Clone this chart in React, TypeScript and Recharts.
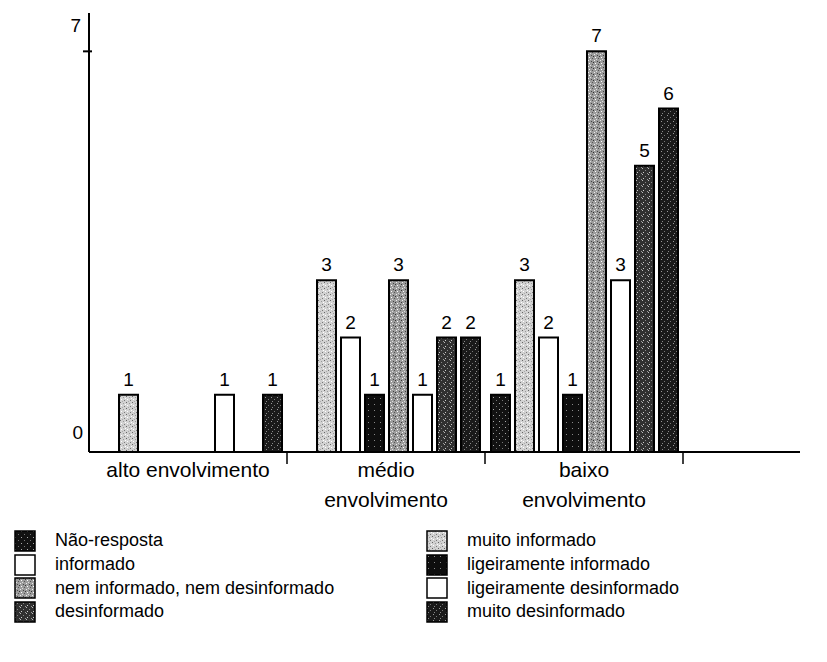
import React from 'react'
import { BarChart, Bar, XAxis, YAxis, LabelList } from 'recharts'

// grupos (eixo x)
const categories = ['alto envolvimento', 'médio\nenvolvimento', 'baixo\nenvolvimento']

// uma lista por série, na ordem dos grupos
const naoResposta = [0, 0, 1]
const muitoInformado = [1, 3, 3]
const informado = [0, 2, 2]
const ligeiramenteInformado = [0, 1, 1]
const nemNem = [0, 3, 7]
const ligeiramenteDesinformado = [1, 1, 3]
const desinformado = [0, 2, 5]
const muitoDesinformado = [1, 2, 6]

const yTicks = [0, 7]

const series = [
  { key: 'nr', name: 'Não-resposta', values: naoResposta, fill: 'url(#pat-nr)' },
  { key: 'mi', name: 'muito informado', values: muitoInformado, fill: 'url(#pat-mi)' },
  { key: 'inf', name: 'informado', values: informado, fill: '#ffffff' },
  { key: 'li', name: 'ligeiramente informado', values: ligeiramenteInformado, fill: 'url(#pat-li)' },
  { key: 'nem', name: 'nem informado, nem desinformado', values: nemNem, fill: 'url(#pat-nem)' },
  { key: 'ld', name: 'ligeiramente desinformado', values: ligeiramenteDesinformado, fill: '#ffffff' },
  { key: 'des', name: 'desinformado', values: desinformado, fill: 'url(#pat-des)' },
  { key: 'md', name: 'muito desinformado', values: muitoDesinformado, fill: 'url(#pat-md)' }
]

const data = categories.map((name, i) => {
  const row: Record<string, any> = { name }
  series.forEach(s => { row[s.key] = s.values[i] })
  return row
})

const FONT = '"Liberation Sans", Arial, Helvetica, sans-serif'

// texturas pontilhadas (tile pequeno e fixo)
function Speckle({ id, base, dots }: { id: string; base: string; dots: [number, number, string][] }) {
  return (
    <pattern id={id} width={6} height={6} patternUnits="userSpaceOnUse">
      <rect width={6} height={6} fill={base} />
      {dots.map(([dx, dy, c], i) => <rect key={i} x={dx} y={dy} width={1} height={1} fill={c} />)}
    </pattern>
  )
}

function Patterns() {
  return (
    <defs>
      <Speckle id="pat-nr" base="#121212" dots={[[1, 1, '#aaa'], [4, 4, '#777']]} />
      <Speckle id="pat-mi" base="#d2d2d2" dots={[[0, 0, '#666'], [3, 1, '#999'], [1, 3, '#fff'], [4, 4, '#777'], [2, 5, '#aaa'], [5, 2, '#fff']]} />
      <Speckle id="pat-li" base="#0e0e0e" dots={[[2, 2, '#888']]} />
      <Speckle id="pat-nem" base="#9c9c9c" dots={[[0, 0, '#eee'], [3, 1, '#444'], [1, 3, '#fff'], [4, 4, '#555'], [2, 5, '#ddd'], [5, 2, '#333']]} />
      <Speckle id="pat-des" base="#303030" dots={[[0, 0, '#bbb'], [3, 2, '#888'], [1, 4, '#ccc'], [5, 5, '#999']]} />
      <Speckle id="pat-md" base="#1a1a1a" dots={[[1, 1, '#999'], [4, 3, '#777'], [2, 5, '#888']]} />
    </defs>
  )
}

function CategoryTick(props: any) {
  const { x, y, payload } = props
  const half = payload && payload.offset ? payload.offset : 99
  const lines = String(payload.value).split('\n')
  return (
    <g>
      <line x1={x + half} x2={x + half} y1={y} y2={y + 12} stroke="#000" strokeWidth={1.5} />
      {lines.map((t, i) => (
        <text key={i} x={x} y={y + 25 + i * 30} textAnchor="middle" fontSize={21} fontFamily={FONT} fill="#000">
          {t}
        </text>
      ))}
    </g>
  )
}

function ValueTick(props: any) {
  const { x, y, payload } = props
  const lift = payload.value === 0 ? 20 : 26
  return (
    <g>
      {payload.value !== 0 && (
        <line x1={x + 2} x2={x + 11} y1={y} y2={y} stroke="#000" strokeWidth={2} />
      )}
      <text x={payload.value === 0 ? x + 2 : x} y={y - lift} textAnchor="end" dominantBaseline="central" fontSize={19} fontFamily={FONT} fill="#000">
        {payload.value}
      </text>
    </g>
  )
}

function LegendSwatch({ fill }: { fill: string }) {
  return (
    <svg width={22} height={22} style={{ display: 'block' }}>
      <rect x={1} y={1} width={20} height={20} fill={fill} stroke="#000" strokeWidth={1.5} />
    </svg>
  )
}

export default function App() {
  // legenda em duas colunas: pares à esquerda, ímpares à direita
  const cols = [series.filter((_, i) => i % 2 === 0), series.filter((_, i) => i % 2 === 1)]

  return (
    <div style={{ position: 'absolute', left: 0, top: 0, width: 827, height: 662, background: '#fff', fontFamily: FONT }}>
      <BarChart
        width={827}
        height={530}
        data={data}
        margin={{ top: 13, right: 27, left: 0, bottom: 0 }}
        barSize={19}
        barGap={5}
      >
        <Patterns />
        <XAxis
          dataKey="name"
          height={78}
          interval={0}
          padding={{ left: 0, right: 117 }}
          axisLine={{ stroke: '#000', strokeWidth: 2 }}
          tickLine={false}
          tickSize={0}
          tickMargin={0}
          tick={<CategoryTick />}
        />
        <YAxis
          width={89}
          domain={[0, 7.67]}
          ticks={yTicks}
          allowDataOverflow
          axisLine={{ stroke: '#000', strokeWidth: 2 }}
          tickLine={false}
          tickSize={6}
          tickMargin={2}
          tick={<ValueTick />}
        />
        {series.map(s => (
          <Bar key={s.key} dataKey={s.key} name={s.name} fill={s.fill} stroke="#000" strokeWidth={2} isAnimationActive={false}>
            <LabelList
              dataKey={s.key}
              position="top"
              offset={9}
              fill="#000"
              fontSize={19}
              fontFamily={FONT}
              formatter={(v: any) => (v === 0 ? '' : v)}
            />
          </Bar>
        ))}
      </BarChart>

      {cols.map((col, c) => (
        <div key={c} style={{ position: 'absolute', left: c === 0 ? 14 : 426, top: 529 }}>
          {col.map(s => (
            <div key={s.key} style={{ display: 'flex', alignItems: 'center', height: 23.7 }}>
              <LegendSwatch fill={s.fill} />
              <span style={{ marginLeft: 19, fontSize: 18, color: '#000', whiteSpace: 'nowrap' }}>{s.name}</span>
            </div>
          ))}
        </div>
      ))}
    </div>
  )
}
